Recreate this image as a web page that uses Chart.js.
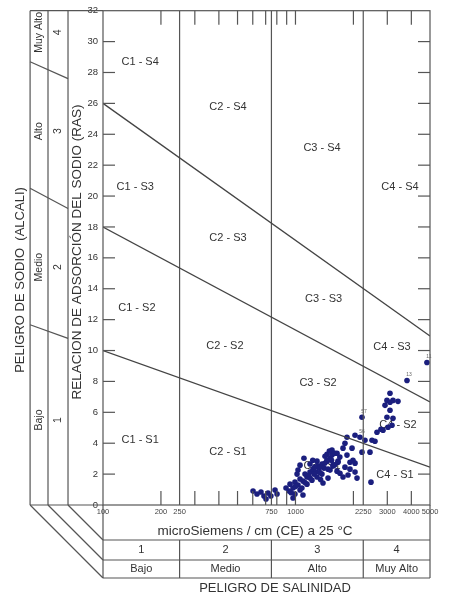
<!DOCTYPE html>
<html>
<head>
<meta charset="utf-8">
<script src="https://cdn.jsdelivr.net/npm/chart.js@4.4.1/dist/chart.umd.min.js"></script>
<style>
  body { margin: 0; background: #fff; }
  canvas { display: block; }
</style>
</head>
<body>
<canvas id="riverside" width="456" height="598"></canvas>
<script>
// Diagrama de Riverside: CE (microSiemens/cm) vs RAS
const ecTicks = [100, 200, 250, 750, 1000, 2250, 3000, 4000, 5000];
const ecMinor = [200, 300, 400, 500, 600, 700, 800, 900, 1000, 2000, 3000, 4000];
const salinityLimits = [250, 750, 2250];
const salinityClass = ['1', '2', '3', '4'];
const salinityName = ['Bajo', 'Medio', 'Alto', 'Muy Alto'];
const sodiumClass = ['1', '2', '3', '4'];
const sodiumName = ['Bajo', 'Medio', 'Alto', 'Muy Alto'];
const sodiumMid = [5.5, 15.4, 24.2, 30.6]; // RAS donde van las etiquetas del panel

// limites S1/S2, S2/S3, S3/S4 (rectas en escala log)
const lineEC = [100, 5000];
const limitS1S2 = [10, 2.45];
const limitS2S3 = [18, 6.67];
const limitS3S4 = [26, 10.94];
// continuacion de los limites en el panel de la izquierda
const panelEC = [41.8, 65.8];
const panelS1S2 = [11.67, 10.79];
const panelS2S3 = [20.5, 19.2];
const panelS3S4 = [28.7, 27.6];

const zoneNames = ['C1 - S4', 'C2 - S4', 'C3 - S4', 'C4 - S4',
                   'C1 - S3', 'C2 - S3', 'C3 - S3', 'C4 - S3',
                   'C1 - S2', 'C2 - S2', 'C3 - S2', 'C4 - S2',
                   'C1 - S1', 'C2 - S1', 'C3 - S1', 'C4 - S1'];
const zoneEC = [156, 446, 1374, 3493, 147, 446, 1400, 3172, 150, 430, 1310, 3409, 156, 446, 1374, 3290];
const zoneRAS = [28.7, 25.8, 23.1, 20.6, 20.6, 17.3, 13.35, 10.26, 12.77, 10.3, 7.87, 5.16, 4.19, 3.42, 2.5, 1.94];

// muestras
const sampleEC = [602, 631, 662, 686, 720, 745, 783, 802, 703, 925,
  937, 971, 994, 1031, 1056, 1094, 1121, 1148, 1190, 1233,
  1278, 1309, 1373, 1407, 1458, 1512, 1548, 1605, 1458, 1294,
  1190, 1107, 1056, 1019, 994, 1056, 1148, 1218, 1294, 1373,
  1476, 1567, 1663, 1644, 1476, 1390, 971, 1094, 893, 1031,
  1808, 1766, 1967, 2216, 2439, 1548, 1644, 1852, 1424, 1458,
  1663, 1920, 2039, 1567, 1808, 1920, 1512, 1703, 2039, 1766,
  2088, 1990, 2297, 2498, 2652, 2589, 2164, 2216, 2468, 1875,
  2782, 2850, 3025, 3173, 3211, 2988, 3098, 2919, 2988, 3098,
  3211, 3409, 3098, 3797, 4820, 2039, 1852,
  1170, 1250, 1330, 1420, 1340, 1260, 1120, 1000, 1190, 1540,
  1600, 1700, 1350, 1080, 950, 1230, 1500];
const sampleRAS = [0.90, 0.71, 0.84, 0.58, 0.77, 0.58, 0.97, 0.71, 0.39, 0.90,
  1.35, 1.10, 1.48, 1.29, 1.68, 1.55, 2.00, 1.81, 2.13, 2.32,
  2.13, 2.52, 2.65, 2.39, 2.84, 3.03, 3.23, 3.35, 3.29, 2.84,
  2.65, 3.03, 2.58, 2.00, 0.71, 0.97, 1.35, 1.61, 1.81, 2.00,
  2.32, 2.52, 2.84, 2.19, 1.74, 1.42, 0.45, 0.65, 1.10, 2.26,
  4.00, 3.68, 3.68, 3.42, 3.42, 3.55, 3.35, 3.23, 3.16, 2.90,
  2.77, 2.77, 2.71, 2.58, 2.45, 2.32, 2.26, 2.06, 2.13, 1.81,
  1.74, 2.90, 4.19, 4.19, 4.71, 4.13, 4.39, 5.68, 1.48, 1.94,
  4.90, 4.84, 5.03, 5.16, 5.61, 5.68, 6.13, 6.45, 6.77, 6.65,
  6.77, 6.71, 7.23, 8.06, 9.23, 4.52, 4.39,
  1.90, 2.00, 2.40, 2.70, 2.10, 2.45, 1.45, 1.20, 1.75, 2.90,
  2.60, 3.10, 1.65, 1.10, 0.80, 2.90, 3.50];
const tagIndex = [94, 93, 77, 76];
const tagText = ['11', '13', '57', '56'];

const FONT = '"Liberation Sans", Arial, sans-serif';
const INK = '#333';
const RULE = '#555';

const pairs = (xs, ys) => xs.map((v, i) => ({ x: v, y: ys[i] }));
const limitLine = ys => ({
  data: pairs(lineEC, ys), showLine: true, pointRadius: 0,
  borderColor: '#444', borderWidth: 1.3
});
const datasets = [
  limitLine(limitS1S2), limitLine(limitS2S3), limitLine(limitS3S4),
  ...salinityLimits.map(v => ({
    data: [{ x: v, y: 0 }, { x: v, y: 32 }], showLine: true, pointRadius: 0,
    borderColor: RULE, borderWidth: 1.2
  })),
  {
    data: pairs(sampleEC, sampleRAS),
    pointRadius: 2.8, backgroundColor: '#1b1f7e', borderColor: '#1b1f7e', borderWidth: 0
  }
];

function seg(ctx, x1, y1, x2, y2) {
  ctx.beginPath();
  ctx.moveTo(x1, y1);
  ctx.lineTo(x2, y2);
  ctx.stroke();
}
function vtext(ctx, t, px, py) {
  ctx.save();
  ctx.translate(px, py);
  ctx.rotate(-Math.PI / 2);
  ctx.fillText(t, 0, 0);
  ctx.restore();
}

const decor = {
  id: 'decor',
  beforeDatasetsDraw(chart) {
    const { ctx, scales: { x, y } } = chart;
    ctx.save();
    ctx.fillStyle = INK;
    ctx.font = '11px ' + FONT;
    ctx.textAlign = 'center';
    ctx.textBaseline = 'middle';
    zoneNames.forEach((t, i) => {
      ctx.fillText(t, x.getPixelForValue(zoneEC[i]), y.getPixelForValue(zoneRAS[i]));
    });
    ctx.restore();
  },
  afterDraw(chart) {
    const { ctx, chartArea: a, scales: { x, y } } = chart;
    const colA = x.getPixelForValue(panelEC[0]);
    const colC = x.getPixelForValue(panelEC[1]);
    const colB = 48;
    const rowTop = 540, rowMid = 560, rowBot = 578;
    ctx.save();
    ctx.strokeStyle = RULE;
    ctx.lineWidth = 1.2;
    ctx.strokeRect(a.left, a.top, a.right - a.left, a.bottom - a.top);

    // panel del sodio
    seg(ctx, colA, a.top, a.left, a.top);
    [colA, colB, colC].forEach(px => seg(ctx, px, a.top, px, a.bottom));
    seg(ctx, colA, a.bottom, a.left, a.bottom);
    seg(ctx, colA, a.bottom, a.left, rowBot);
    seg(ctx, colB, a.bottom, a.left, rowMid);
    seg(ctx, colC, a.bottom, a.left, rowTop);
    [panelS1S2, panelS2S3, panelS3S4].forEach(r => {
      seg(ctx, colA, y.getPixelForValue(r[0]), colC, y.getPixelForValue(r[1]));
    });

    // tabla de salinidad
    seg(ctx, a.left, a.bottom, a.left, rowBot);
    seg(ctx, a.right, a.bottom, a.right, rowBot);
    [rowTop, rowMid, rowBot].forEach(py => seg(ctx, a.left, py, a.right, py));
    salinityLimits.forEach(v => {
      const px = x.getPixelForValue(v);
      seg(ctx, px, rowTop, px, rowBot);
    });

    // marcas interiores
    ecMinor.forEach(v => {
      const px = x.getPixelForValue(v);
      seg(ctx, px, a.bottom, px, a.bottom - 14);
      seg(ctx, px, a.top, px, a.top + 14);
    });
    for (let r = 2; r < 32; r += 2) {
      const py = y.getPixelForValue(r);
      seg(ctx, a.left, py, a.left + 12, py);
      seg(ctx, a.right - 12, py, a.right, py);
    }

    // textos
    ctx.fillStyle = INK;
    ctx.textAlign = 'center';
    ctx.textBaseline = 'middle';
    ctx.font = '13px ' + FONT;
    vtext(ctx, 'PELIGRO DE SODIO  (ALCALI)', 20, 280);
    ctx.font = '13.5px ' + FONT;
    vtext(ctx, 'RELACION DE ADSORCIÓN DEL SODIO (RAS)', 77, 252);
    ctx.font = '10.5px ' + FONT;
    sodiumName.forEach((t, i) => vtext(ctx, t, (colA + colB) / 2, y.getPixelForValue(sodiumMid[i])));
    sodiumClass.forEach((t, i) => vtext(ctx, t, (colB + colC) / 2, y.getPixelForValue(sodiumMid[i])));

    const edges = [x.min, ...salinityLimits, x.max].map(v => x.getPixelForValue(v));
    ctx.font = '11px ' + FONT;
    salinityClass.forEach((t, i) => ctx.fillText(t, (edges[i] + edges[i + 1]) / 2, (rowTop + rowMid) / 2));
    salinityName.forEach((t, i) => ctx.fillText(t, (edges[i] + edges[i + 1]) / 2, (rowMid + rowBot) / 2));
    ctx.font = '13.5px ' + FONT;
    ctx.fillText('microSiemens / cm (CE) a 25 °C', 255, 531);
    ctx.font = '13px ' + FONT;
    ctx.fillText('PELIGRO DE SALINIDAD', 275, 588);

    // etiquetas de algunas muestras
    const pts = chart.getDatasetMeta(datasets.length - 1).data;
    ctx.fillStyle = '#666';
    ctx.font = '5px ' + FONT;
    tagIndex.forEach((k, i) => ctx.fillText(tagText[i], pts[k].x + 2, pts[k].y - 6));
    ctx.restore();
  }
};

new Chart(document.getElementById('riverside'), {
  type: 'scatter',
  data: { datasets },
  plugins: [decor],
  options: {
    responsive: false,
    animation: false,
    events: [],
    layout: { padding: { left: 68, right: 26, top: 9, bottom: 0 } },
    plugins: { legend: { display: false }, tooltip: { enabled: false } },
    scales: {
      x: {
        type: 'logarithmic',
        min: 100,
        max: 5000,
        afterBuildTicks: s => { s.ticks = ecTicks.map(v => ({ value: v })); },
        afterFit: s => { s.height = 93; },
        grid: { display: false, drawTicks: false },
        border: { display: false },
        ticks: {
          autoSkip: false, maxRotation: 0, padding: 2,
          color: '#444', font: { size: 7.5, family: FONT },
          callback: v => String(v)
        }
      },
      y: {
        min: 0,
        max: 32,
        afterFit: s => { s.width = 35; },
        grid: { display: false, drawTicks: false },
        border: { display: false },
        ticks: { stepSize: 2, padding: 5, color: INK, font: { size: 9.5, family: FONT } }
      }
    }
  }
});
</script>
</body>
</html>
